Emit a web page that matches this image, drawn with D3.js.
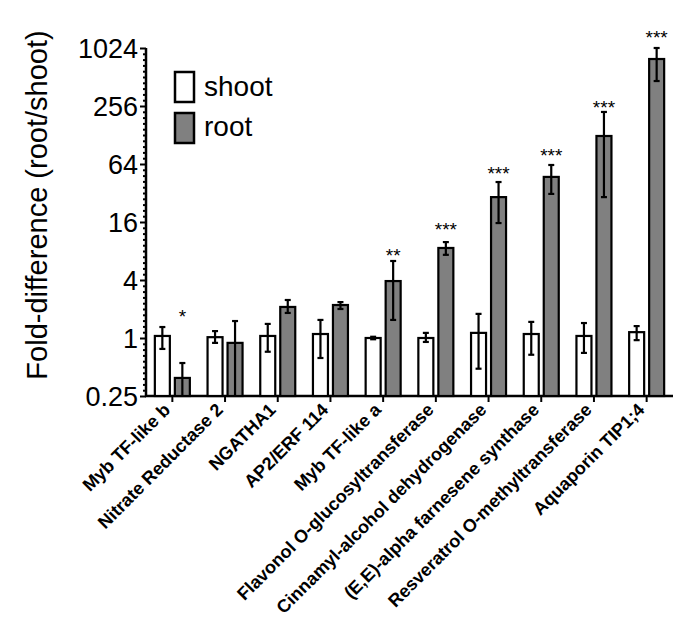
<!DOCTYPE html>
<html><head><meta charset="utf-8">
<script src="https://cdn.jsdelivr.net/npm/d3@7"></script>
<style>body{margin:0;background:#fff}svg{display:block}</style>
</head><body>
<svg id="chart" width="685" height="640"></svg>
<script>
const categories = ["Myb TF-like b","Nitrate Reductase 2","NGATHA1","AP2/ERF 114","Myb TF-like a",
  "Flavonol O-glucosyltransferase","Cinnamyl-alcohol dehydrogenase","(E,E)-alpha farnesene synthase",
  "Resveratrol O-methyltransferase","Aquaporin TIP1;4"];
const shootValues = [1.05, 1.02, 1.05, 1.10, 1.00, 1.00, 1.13, 1.10, 1.05, 1.15];
const shootErrHigh = [1.30, 1.18, 1.40, 1.54, 1.03, 1.13, 1.78, 1.47, 1.43, 1.33];
const shootErrLow  = [0.77, 0.89, 0.72, 0.62, 0.97, 0.91, 0.48, 0.67, 0.70, 0.95];
const rootValues = [0.385, 0.89, 2.10, 2.20, 3.9, 8.6, 29, 47, 125, 787];
const rootErrHigh = [0.55, 1.50, 2.48, 2.36, 6.3, 9.9, 41.6, 62.5, 222, 1100];
const rootErrLow  = [0.2, 0.2, 1.82, 2.0, 1.54, 7.3, 15.6, 31.3, 29, 465];
const significance = ["*", "", "", "", "**", "***", "***", "***", "***", "***"];
const starLevel = [1.86, null, null, null, 8, 14.9, 56.8, 87, 274, 1470];
const yTicks = [0.25, 1, 4, 16, 64, 256, 1024];
const yTickLabels = ["0.25", "1", "4", "16", "64", "256", "1024"];
const series = ["shoot", "root"];
const seriesColors = ["#ffffff", "#808080"];

const svg = d3.select("#chart");
const font = "'Liberation Sans', Arial, Helvetica, sans-serif";
const x0 = 146, x1 = 673, yBottom = 396, yTop = 48;

const x = d3.scaleBand().domain(categories).range([x0, x1]).padding(0);
const y = d3.scaleLog().base(2).domain([0.25, 1024]).range([yBottom, yTop]);
const clampV = v => Math.max(0.25, Math.min(1024, v));

// y axis
const minorTicks = [];
for (let i = 0; i < yTicks.length - 1; i++) {
  const a = Math.log2(yTicks[i]), b = Math.log2(yTicks[i + 1]);
  for (let k = 1; k < 10; k++) minorTicks.push(Math.pow(2, a + (b - a) * k / 10));
}
const yAxisMinor = d3.axisLeft(y).tickValues(minorTicks).tickSize(3).tickFormat("");
const gMinor = svg.append("g").attr("transform", `translate(${x0},0)`).call(yAxisMinor);
gMinor.select(".domain").remove();
gMinor.selectAll("line").attr("stroke", "#000").attr("stroke-width", 2);

const yAxis = d3.axisLeft(y).tickValues(yTicks).tickSize(6).tickPadding(2)
  .tickFormat((d, i) => yTickLabels[i]);
const gy = svg.append("g").attr("transform", `translate(${x0},0)`).call(yAxis);
gy.select(".domain").attr("stroke", "#000").attr("stroke-width", 2.5).attr("d", `M0,${yTop}V${yBottom}`);
gy.selectAll("line").attr("stroke", "#000").attr("stroke-width", 2);
gy.selectAll("text").attr("font-family", font).attr("font-size", 27).attr("fill", "#000").attr("dy", "0.36em");

// x axis
const xAxis = d3.axisBottom(x).tickSize(6).tickFormat("");
const gx = svg.append("g").attr("transform", `translate(0,${yBottom})`).call(xAxis);
gx.select(".domain").attr("stroke", "#000").attr("stroke-width", 2.5).attr("d", `M${x0 - 1},0H${x1}`);
gx.selectAll("line").attr("stroke", "#000").attr("stroke-width", 2);

// category labels
svg.append("g").selectAll("text").data(categories).join("text")
  .attr("transform", d => `translate(${x(d) + x.bandwidth() / 2 - 1},${yBottom + 15}) rotate(-45)`)
  .attr("text-anchor", "end")
  .attr("font-family", font).attr("font-weight", "bold").attr("font-size", 18)
  .text(d => d);

// bars
const barW = 15, gap = 5;
const offsets = [-(barW + gap / 2), gap / 2];
const valuesBy = [shootValues, rootValues];
const hiBy = [shootErrHigh, rootErrHigh];
const loBy = [shootErrLow, rootErrLow];

series.forEach((s, si) => {
  const g = svg.append("g");
  g.selectAll("rect").data(categories).join("rect")
    .attr("x", d => x(d) + x.bandwidth() / 2 + offsets[si])
    .attr("y", (d, i) => y(valuesBy[si][i]))
    .attr("width", barW)
    .attr("height", (d, i) => yBottom - y(valuesBy[si][i]))
    .attr("fill", seriesColors[si]).attr("stroke", "#000").attr("stroke-width", 2.2);
  const eg = svg.append("g");
  categories.forEach((d, i) => {
    const cx = x(d) + x.bandwidth() / 2 + offsets[si] + barW / 2;
    const yh = y(clampV(hiBy[si][i])), yl = y(clampV(loBy[si][i]));
    eg.append("line").attr("x1", cx).attr("x2", cx).attr("y1", yh).attr("y2", yl)
      .attr("stroke", "#000").attr("stroke-width", 2.2);
    eg.append("line").attr("x1", cx - 3).attr("x2", cx + 3).attr("y1", yh).attr("y2", yh)
      .attr("stroke", "#000").attr("stroke-width", 2.2);
    if (loBy[si][i] >= 0.25)
      eg.append("line").attr("x1", cx - 3).attr("x2", cx + 3).attr("y1", yl).attr("y2", yl)
        .attr("stroke", "#000").attr("stroke-width", 2.2);
  });
});

// significance stars
svg.append("g").selectAll("text").data(categories).join("text")
  .attr("x", d => x(d) + x.bandwidth() / 2 + offsets[1] + barW / 2)
  .attr("y", (d, i) => starLevel[i] ? y(starLevel[i]) + 11 : 0)
  .attr("text-anchor", "middle")
  .attr("font-family", font).attr("font-size", 19)
  .text((d, i) => significance[i]);

// legend
const legend = svg.append("g");
series.forEach((s, i) => {
  legend.append("rect").attr("x", 175).attr("y", 72 + i * 41).attr("width", 19).attr("height", 30)
    .attr("fill", seriesColors[i]).attr("stroke", "#000").attr("stroke-width", 2.5);
  legend.append("text").attr("x", 204).attr("y", 96 + i * 40)
    .attr("font-family", font).attr("font-size", 28).text(s);
});

// y title
svg.append("text")
  .attr("transform", `translate(47,205) rotate(-90)`)
  .attr("text-anchor", "middle")
  .attr("font-family", font).attr("font-size", 29)
  .text("Fold-difference (root/shoot)");
</script>
</body></html>
